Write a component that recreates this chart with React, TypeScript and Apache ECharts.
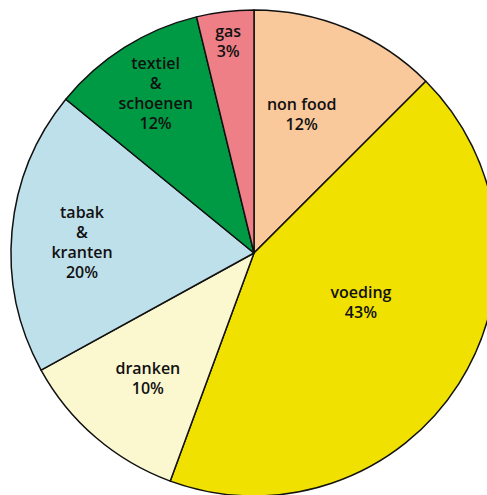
import React, { useEffect, useRef } from "react";
import * as echarts from "echarts";

const categories = ["non food", "voeding", "dranken", "tabak\n&\nkranten", "textiel\n&\nschoenen", "gas"];
const sliceValues = [12.5, 43.1, 11.4, 18.9, 10.3, 3.8];
const shownPercent = ["12%", "43%", "10%", "20%", "12%", "3%"];
const sliceColors = ["#F9C89B", "#F0E100", "#FBF7CF", "#BEE0EA", "#009A44", "#EF7F86"];
const labelOffsets: [number, number][] = [
  [0, -24],
  [2, -18],
  [-25, 31],
  [-48, 0],
  [-32, -55],
  [-11, -88],
];

export default function App() {
  const ref = useRef<HTMLDivElement>(null);
  useEffect(() => {
    document.body.style.margin = "0";
    if (!ref.current) return;
    const chart = echarts.init(ref.current, null, { renderer: "svg" });
    const data = categories.map((name, i) => ({
      name,
      value: sliceValues[i],
      itemStyle: { color: sliceColors[i] },
      label: { offset: labelOffsets[i] },
    }));
    chart.setOption({
      animation: false,
      series: [
        {
          type: "pie",
          center: [254, 253],
          radius: [0, 243],
          startAngle: 90,
          clockwise: true,
          avoidLabelOverlap: false,
          silent: true,
          itemStyle: { borderColor: "#111", borderWidth: 1.5 },
          label: {
            show: true,
            position: "inside",
            color: "#111",
            fontFamily: "Open Sans",
            fontWeight: 600,
            fontSize: 16,
            lineHeight: 20,
            align: "center",
            formatter: (p: any) => `${p.name}\n${shownPercent[p.dataIndex]}`,
          },
          labelLine: { show: false },
          data,
        },
      ],
    });
    return () => chart.dispose();
  }, []);
  return <div ref={ref} style={{ width: 487, height: 495 }} />;
}
